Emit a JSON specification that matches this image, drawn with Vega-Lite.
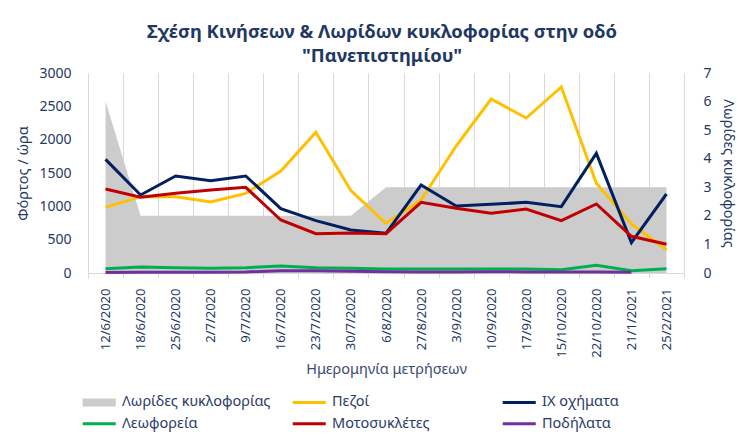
{
  "$schema": "https://vega.github.io/schema/vega-lite/v6.json",
  "width": 596,
  "height": 200,
  "autosize": {"type": "none"},
  "padding": {"left": 88, "top": 73, "right": 63, "bottom": 171},
  "config": {"font": "Noto Sans", "view": {"stroke": null}},
  "title": {
    "text": ["Σχέση Κινήσεων & Λωρίδων κυκλοφορίας στην οδό", "\"Πανεπιστημίου\""],
    "fontSize": 18.4, "fontWeight": "bold", "color": "#1F3864",
    "anchor": "middle", "dx": -4, "offset": 1, "lineHeight": 24
  },
  "data": {"values": [
    {"date": "12/6/2020", "series": "Λωρίδες κυκλοφορίας", "value": 6},
    {"date": "18/6/2020", "series": "Λωρίδες κυκλοφορίας", "value": 2},
    {"date": "25/6/2020", "series": "Λωρίδες κυκλοφορίας", "value": 2},
    {"date": "2/7/2020", "series": "Λωρίδες κυκλοφορίας", "value": 2},
    {"date": "9/7/2020", "series": "Λωρίδες κυκλοφορίας", "value": 2},
    {"date": "16/7/2020", "series": "Λωρίδες κυκλοφορίας", "value": 2},
    {"date": "23/7/2020", "series": "Λωρίδες κυκλοφορίας", "value": 2},
    {"date": "30/7/2020", "series": "Λωρίδες κυκλοφορίας", "value": 2},
    {"date": "6/8/2020", "series": "Λωρίδες κυκλοφορίας", "value": 3},
    {"date": "27/8/2020", "series": "Λωρίδες κυκλοφορίας", "value": 3},
    {"date": "3/9/2020", "series": "Λωρίδες κυκλοφορίας", "value": 3},
    {"date": "10/9/2020", "series": "Λωρίδες κυκλοφορίας", "value": 3},
    {"date": "17/9/2020", "series": "Λωρίδες κυκλοφορίας", "value": 3},
    {"date": "15/10/2020", "series": "Λωρίδες κυκλοφορίας", "value": 3},
    {"date": "22/10/2020", "series": "Λωρίδες κυκλοφορίας", "value": 3},
    {"date": "21/1/2021", "series": "Λωρίδες κυκλοφορίας", "value": 3},
    {"date": "25/2/2021", "series": "Λωρίδες κυκλοφορίας", "value": 3},

    {"date": "12/6/2020", "series": "Πεζοί", "value": 985},
    {"date": "18/6/2020", "series": "Πεζοί", "value": 1145},
    {"date": "25/6/2020", "series": "Πεζοί", "value": 1145},
    {"date": "2/7/2020", "series": "Πεζοί", "value": 1065},
    {"date": "9/7/2020", "series": "Πεζοί", "value": 1195},
    {"date": "16/7/2020", "series": "Πεζοί", "value": 1530},
    {"date": "23/7/2020", "series": "Πεζοί", "value": 2110},
    {"date": "30/7/2020", "series": "Πεζοί", "value": 1235},
    {"date": "6/8/2020", "series": "Πεζοί", "value": 745},
    {"date": "27/8/2020", "series": "Πεζοί", "value": 1095},
    {"date": "3/9/2020", "series": "Πεζοί", "value": 1905},
    {"date": "10/9/2020", "series": "Πεζοί", "value": 2610},
    {"date": "17/9/2020", "series": "Πεζοί", "value": 2325},
    {"date": "15/10/2020", "series": "Πεζοί", "value": 2790},
    {"date": "22/10/2020", "series": "Πεζοί", "value": 1345},
    {"date": "21/1/2021", "series": "Πεζοί", "value": 735},
    {"date": "25/2/2021", "series": "Πεζοί", "value": 350},

    {"date": "12/6/2020", "series": "ΙΧ οχήματα", "value": 1705},
    {"date": "18/6/2020", "series": "ΙΧ οχήματα", "value": 1170},
    {"date": "25/6/2020", "series": "ΙΧ οχήματα", "value": 1455},
    {"date": "2/7/2020", "series": "ΙΧ οχήματα", "value": 1385},
    {"date": "9/7/2020", "series": "ΙΧ οχήματα", "value": 1455},
    {"date": "16/7/2020", "series": "ΙΧ οχήματα", "value": 965},
    {"date": "23/7/2020", "series": "ΙΧ οχήματα", "value": 785},
    {"date": "30/7/2020", "series": "ΙΧ οχήματα", "value": 645},
    {"date": "6/8/2020", "series": "ΙΧ οχήματα", "value": 595},
    {"date": "27/8/2020", "series": "ΙΧ οχήματα", "value": 1320},
    {"date": "3/9/2020", "series": "ΙΧ οχήματα", "value": 1005},
    {"date": "10/9/2020", "series": "ΙΧ οχήματα", "value": 1030},
    {"date": "17/9/2020", "series": "ΙΧ οχήματα", "value": 1060},
    {"date": "15/10/2020", "series": "ΙΧ οχήματα", "value": 995},
    {"date": "22/10/2020", "series": "ΙΧ οχήματα", "value": 1795},
    {"date": "21/1/2021", "series": "ΙΧ οχήματα", "value": 455},
    {"date": "25/2/2021", "series": "ΙΧ οχήματα", "value": 1185},

    {"date": "12/6/2020", "series": "Λεωφορεία", "value": 65},
    {"date": "18/6/2020", "series": "Λεωφορεία", "value": 90},
    {"date": "25/6/2020", "series": "Λεωφορεία", "value": 80},
    {"date": "2/7/2020", "series": "Λεωφορεία", "value": 70},
    {"date": "9/7/2020", "series": "Λεωφορεία", "value": 80},
    {"date": "16/7/2020", "series": "Λεωφορεία", "value": 105},
    {"date": "23/7/2020", "series": "Λεωφορεία", "value": 80},
    {"date": "30/7/2020", "series": "Λεωφορεία", "value": 70},
    {"date": "6/8/2020", "series": "Λεωφορεία", "value": 60},
    {"date": "27/8/2020", "series": "Λεωφορεία", "value": 60},
    {"date": "3/9/2020", "series": "Λεωφορεία", "value": 60},
    {"date": "10/9/2020", "series": "Λεωφορεία", "value": 60},
    {"date": "17/9/2020", "series": "Λεωφορεία", "value": 60},
    {"date": "15/10/2020", "series": "Λεωφορεία", "value": 50},
    {"date": "22/10/2020", "series": "Λεωφορεία", "value": 115},
    {"date": "21/1/2021", "series": "Λεωφορεία", "value": 35},
    {"date": "25/2/2021", "series": "Λεωφορεία", "value": 65},

    {"date": "12/6/2020", "series": "Μοτοσυκλέτες", "value": 1260},
    {"date": "18/6/2020", "series": "Μοτοσυκλέτες", "value": 1135},
    {"date": "25/6/2020", "series": "Μοτοσυκλέτες", "value": 1195},
    {"date": "2/7/2020", "series": "Μοτοσυκλέτες", "value": 1245},
    {"date": "9/7/2020", "series": "Μοτοσυκλέτες", "value": 1285},
    {"date": "16/7/2020", "series": "Μοτοσυκλέτες", "value": 795},
    {"date": "23/7/2020", "series": "Μοτοσυκλέτες", "value": 590},
    {"date": "30/7/2020", "series": "Μοτοσυκλέτες", "value": 600},
    {"date": "6/8/2020", "series": "Μοτοσυκλέτες", "value": 590},
    {"date": "27/8/2020", "series": "Μοτοσυκλέτες", "value": 1060},
    {"date": "3/9/2020", "series": "Μοτοσυκλέτες", "value": 970},
    {"date": "10/9/2020", "series": "Μοτοσυκλέτες", "value": 895},
    {"date": "17/9/2020", "series": "Μοτοσυκλέτες", "value": 960},
    {"date": "15/10/2020", "series": "Μοτοσυκλέτες", "value": 785},
    {"date": "22/10/2020", "series": "Μοτοσυκλέτες", "value": 1035},
    {"date": "21/1/2021", "series": "Μοτοσυκλέτες", "value": 550},
    {"date": "25/2/2021", "series": "Μοτοσυκλέτες", "value": 430},

    {"date": "12/6/2020", "series": "Ποδήλατα", "value": 8},
    {"date": "18/6/2020", "series": "Ποδήλατα", "value": 10},
    {"date": "25/6/2020", "series": "Ποδήλατα", "value": 10},
    {"date": "2/7/2020", "series": "Ποδήλατα", "value": 10},
    {"date": "9/7/2020", "series": "Ποδήλατα", "value": 15},
    {"date": "16/7/2020", "series": "Ποδήλατα", "value": 35},
    {"date": "23/7/2020", "series": "Ποδήλατα", "value": 35},
    {"date": "30/7/2020", "series": "Ποδήλατα", "value": 25},
    {"date": "6/8/2020", "series": "Ποδήλατα", "value": 20},
    {"date": "27/8/2020", "series": "Ποδήλατα", "value": 15},
    {"date": "3/9/2020", "series": "Ποδήλατα", "value": 15},
    {"date": "10/9/2020", "series": "Ποδήλατα", "value": 20},
    {"date": "17/9/2020", "series": "Ποδήλατα", "value": 15},
    {"date": "15/10/2020", "series": "Ποδήλατα", "value": 15},
    {"date": "22/10/2020", "series": "Ποδήλατα", "value": 15},
    {"date": "21/1/2021", "series": "Ποδήλατα", "value": 10}
  ]},
  "encoding": {
    "x": {
      "field": "date", "type": "nominal", "sort": null,
      "scale": {"paddingInner": 0, "paddingOuter": 0},
      "axis": {
        "title": "Ημερομηνία μετρήσεων", "labelAngle": -90, "tickBand": "extent",
        "grid": true, "gridColor": "#D9D9D9", "domainColor": "#D9D9D9",
        "tickColor": "#D9D9D9", "tickSize": 5, "labelPadding": 10,
        "labelFontSize": 13, "labelColor": "#1F3864",
        "titleColor": "#3A4A70", "titleFontSize": 14.5, "titleFontWeight": "normal",
        "titlePadding": 5
      }
    },
    "color": {
      "field": "series", "type": "nominal",
      "scale": {
        "domain": ["Λωρίδες κυκλοφορίας", "Πεζοί", "ΙΧ οχήματα", "Λεωφορεία", "Μοτοσυκλέτες", "Ποδήλατα"],
        "range": ["#CCCCCC", "#FFC000", "#002060", "#00B050", "#C00000", "#7030A0"]
      },
      "legend": {
        "title": null, "orient": "none", "legendX": 4, "legendY": 322,
        "columns": 3, "direction": "horizontal", "gridAlign": "all",
        "padding": 0, "columnPadding": 21, "rowPadding": 6.5,
        "labelFontSize": 14.5, "labelColor": "#2A3A6A", "labelOffset": 15.5,
        "symbolSize": 100, "symbolType": "M-3.3,-0.3H3.3V0.3H-3.3Z",
        "encode": {
          "symbols": {
            "update": {
              "shape": [
                {"test": "datum.value === 'Λωρίδες κυκλοφορίας'", "value": "M-3.3,-0.8H3.3V0.8H-3.3Z"},
                {"value": "M-3.3,-0.3H3.3V0.3H-3.3Z"}
              ],
              "fill": {"scale": "color", "field": "value"},
              "strokeWidth": {"value": 0},
              "opacity": {"value": 1}
            }
          }
        }
      }
    }
  },
  "layer": [
    {
      "transform": [{"filter": "datum.series === 'Λωρίδες κυκλοφορίας'"}],
      "mark": {"type": "area", "opacity": 1},
      "encoding": {
        "y": {
          "field": "value", "type": "quantitative",
          "scale": {"domain": [0, 7]},
          "axis": {
            "orient": "right", "title": "Λωρίδες κυκλοφορίας", "titleAngle": 90,
            "values": [0, 1, 2, 3, 4, 5, 6, 7], "grid": false, "domain": false, "ticks": false,
            "labelPadding": 19, "labelFontSize": 14, "labelColor": "#1F3864",
            "titleColor": "#1F3864", "titleFontSize": 14.5, "titleFontWeight": "normal",
            "titlePadding": 9
          }
        }
      }
    },
    {
      "transform": [{"filter": "datum.series !== 'Λωρίδες κυκλοφορίας'"}],
      "mark": {"type": "line", "strokeWidth": 3},
      "encoding": {
        "y": {
          "field": "value", "type": "quantitative",
          "scale": {"domain": [0, 3000]},
          "axis": {
            "orient": "left", "title": "Φόρτος / ώρα", "format": "d",
            "values": [0, 500, 1000, 1500, 2000, 2500, 3000], "grid": false, "domain": false, "ticks": false,
            "labelPadding": 17, "labelFontSize": 14, "labelColor": "#1F3864",
            "titleColor": "#1F3864", "titleFontSize": 14.5, "titleFontWeight": "normal",
            "titlePadding": 8
          }
        }
      }
    }
  ],
  "resolve": {"scale": {"y": "independent"}}
}
